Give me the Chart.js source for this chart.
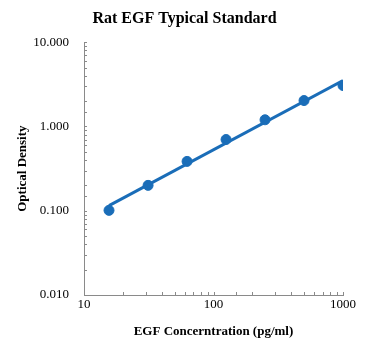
<!DOCTYPE html>
<html>
<head>
<meta charset="utf-8">
<script src="https://cdn.jsdelivr.net/npm/chart.js@4/dist/chart.umd.min.js"></script>
<style>
    html, body {
        margin: 0;
        padding: 0;
        background: #ffffff;
    }
    .chart-box {
        width: 369px;
        height: 350px;
    }
</style>
</head>
<body>
<div class="chart-box">
    <canvas id="stdCurve" width="369" height="350"></canvas>
</div>

<script>
    // standard concentrations (pg/ml) and measured OD
    const concentrations = [15.6, 31.25, 62.5, 125, 250, 500, 1000];
    const densities = [0.101, 0.20, 0.385, 0.70, 1.20, 2.03, 3.06];

    // trendline ends
    const trendX = [15.6, 1000];
    const trendY = [0.115, 3.5];

    const xTickLabels = [10, 100, 1000];
    const yTickLabels = [0.01, 0.1, 1, 10];

    const blue = '#1a6db8';
    const axisGrey = '#8a8a8a';
    const serif = "'Liberation Serif', 'Times New Roman', serif";

    // small tick marks pointing into the plot, like the original
    const innerTicks = {
        id: 'innerTicks',
        afterDraw(chart) {
            const c = chart.ctx;
            const area = chart.chartArea;
            c.save();
            c.strokeStyle = axisGrey;
            c.lineWidth = 1;
            chart.scales.x.ticks.forEach(t => {
                const px = Math.round(chart.scales.x.getPixelForValue(t.value)) + 0.5;
                c.beginPath();
                c.moveTo(px, area.bottom);
                c.lineTo(px, area.bottom - 3);
                c.stroke();
            });
            chart.scales.y.ticks.forEach(t => {
                const py = Math.round(chart.scales.y.getPixelForValue(t.value)) + 0.5;
                c.beginPath();
                c.moveTo(area.left, py);
                c.lineTo(area.left + 3, py);
                c.stroke();
            });
            c.restore();
        }
    };

    const ctx = document.getElementById('stdCurve').getContext('2d');
    const stdChart = new Chart(ctx, {
        type: 'scatter',
        data: {
            datasets: [{
                label: 'trend',
                data: trendX.map((x, i) => ({x: x, y: trendY[i]})),
                showLine: true,
                borderColor: blue,
                borderWidth: 3,
                pointRadius: 0,
                fill: false
            }, {
                label: 'standards',
                data: concentrations.map((x, i) => ({x: x, y: densities[i]})),
                showLine: false,
                backgroundColor: blue,
                borderColor: blue,
                pointRadius: 5,
                pointHoverRadius: 5
            }]
        },
        options: {
            responsive: false,
            animation: false,
            layout: {
                padding: 0
            },
            plugins: {
                legend: {display: false},
                tooltip: {enabled: false},
                title: {
                    display: true,
                    text: 'Rat EGF Typical Standard',
                    color: '#000',
                    font: {family: serif, size: 16, weight: 'bold'},
                    padding: {top: 9, bottom: 14}
                }
            },
            scales: {
                x: {
                    type: 'logarithmic',
                    min: 10,
                    max: 1000,
                    grid: {display: false, drawTicks: false},
                    border: {display: true, color: axisGrey, width: 1},
                    ticks: {
                        autoSkip: false,
                        maxRotation: 0,
                        color: '#000',
                        padding: 2,
                        font: {family: serif, size: 13},
                        callback: v => xTickLabels.includes(v) ? String(v) : ''
                    },
                    title: {
                        display: true,
                        text: 'EGF Concerntration (pg/ml)',
                        color: '#000',
                        font: {family: serif, size: 13, weight: 'bold'},
                        padding: {top: 2, bottom: 11}
                    },
                    afterFit: s => { s.height = 55; }
                },
                y: {
                    type: 'logarithmic',
                    min: 0.01,
                    max: 10,
                    grid: {display: false, drawTicks: false},
                    border: {display: true, color: axisGrey, width: 1},
                    ticks: {
                        autoSkip: false,
                        color: '#000',
                        padding: 15,
                        font: {family: serif, size: 13},
                        callback: v => yTickLabels.some(t => Math.abs(t - v) < 1e-9) ? v.toFixed(3) : ''
                    },
                    title: {
                        display: true,
                        text: 'Optical Density',
                        color: '#000',
                        font: {family: serif, size: 13, weight: 'bold'},
                        padding: {top: 15, bottom: 4}
                    },
                    afterFit: s => { s.width = 84; }
                },
                // empty right-hand strip so the plot stops short of the edge
                yRight: {
                    type: 'linear',
                    position: 'right',
                    display: true,
                    grid: {display: false, drawTicks: false},
                    border: {display: false},
                    ticks: {display: false},
                    afterFit: s => { s.width = 26; }
                }
            }
        },
        plugins: [innerTicks]
    });
</script>
</body>
</html>
